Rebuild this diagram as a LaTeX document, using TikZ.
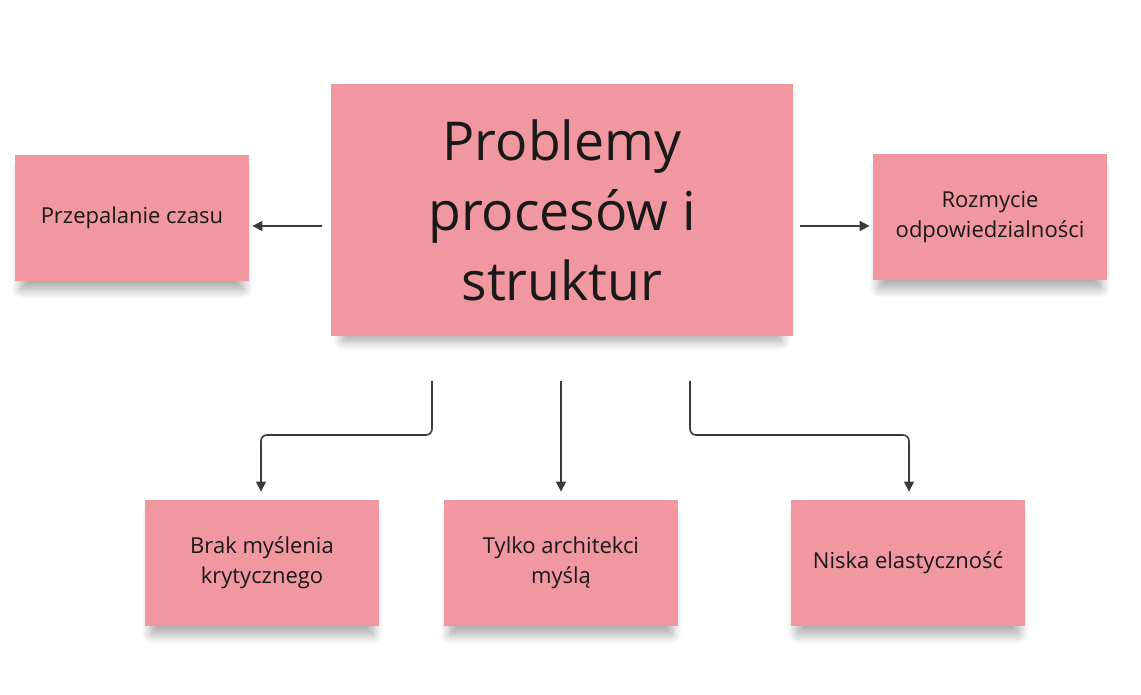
\documentclass[tikz,border=0pt]{standalone}
\usepackage{fontspec}
\setmainfont{Open Sans}
\usetikzlibrary{arrows.meta,positioning,calc,shadows.blur}
\definecolor{notepink}{HTML}{F0979F}
\definecolor{linegray}{HTML}{3A3A3A}

\begin{document}
\begin{tikzpicture}[x=0.5pt,y=-0.5pt,
  note/.style={fill=notepink,draw=none,align=center,text=black!90,inner sep=0pt,
    blur shadow={shadow xshift=0pt,shadow yshift=-6pt,shadow opacity=35,shadow blur radius=5pt,shadow blur steps=10,shadow scale=0.95}},
  small/.style={note,minimum width=117pt,minimum height=63pt,font=\fontsize{11}{15}\selectfont},
  link/.style={draw=linegray,line width=0.8pt,-{Triangle[length=5pt,width=5pt]},rounded corners=3pt}]
\useasboundingbox (0,0) rectangle (1141,695);
% central note
\node[note,minimum width=231pt,minimum height=126pt,font=\fontsize{26.8}{35}\selectfont] (main) at (562,210)
  {Problemy\\procesów i\\struktur};
% side notes
\node[small] (waste) at (132,218) {Przepalanie czasu};
\node[small] (blur) at (990,217) {Rozmycie\\odpowiedzialności};
% bottom notes
\node[small] (crit) at (262,563) {Brak myślenia\\krytycznego};
\node[small] (arch) at (561,563) {Tylko architekci\\myślą};
\node[small] (flex) at (908,563) {Niska elastyczność};
% connector ends
\coordinate (outL) at (322,226);
\coordinate (outR) at (800,226);
\coordinate (out1) at (432,381);
\coordinate (out2) at (561,381);
\coordinate (out3) at (690,381);
\draw[link] (outL) -- ($(waste.east)+(3,8)$);
\draw[link] (outR) -- ($(blur.west)+(-3,9)$);
\draw[link] (out1) |- (261,435) -- ($(crit.north)+(-1,-8)$);
\draw[link] (out2) -- ($(arch.north)+(0,-8)$);
\draw[link] (out3) |- (909,435) -- ($(flex.north)+(1,-8)$);
\end{tikzpicture}
\end{document}
